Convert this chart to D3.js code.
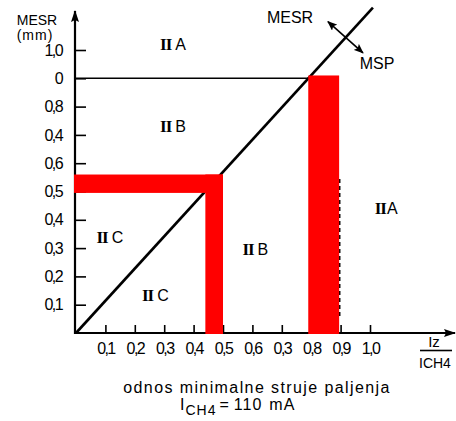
<!DOCTYPE html>
<html><head><meta charset="utf-8">
<script src="https://cdn.jsdelivr.net/npm/d3@7"></script>
<style>
html,body{margin:0;padding:0;background:#fff;}
svg{display:block;}
text{font-family:"Liberation Sans",Arial,sans-serif;fill:#000;}
</style></head>
<body>
<svg id="chart" width="456" height="421"></svg>
<script>
// ---- data ----
const xTickValues = [0.1,0.2,0.3,0.4,0.5,0.6,0.7,0.8,0.9,1.0];
const xTickLabels = ["0,1","0,2","0,3","0,4","0,5","0,6","0,3","0,8","0,9","1,0"];
const yTickValues = [0.1,0.2,0.3,0.4,0.5,0.6,0.7,0.8,0.9,1.0];
const yTickLabels = ["0,1","0,2","0,3","0,4","0,5","0,6","0,4","0,8","0","1,0"];
const diagonalLine = [[0,0],[1.01,1.15]];
const boundaryLine = [[0,0.9],[0.79,0.9]];
const redBands = [
  {x0:0,    x1:0.5,   y0:0.495, y1:0.56},
  {x0:0.44, x1:0.5,   y0:0,     y1:0.56},
  {x0:0.79, x1:0.895, y0:0,     y1:0.91}
];
const dashedEdge = [[0.897,0.06],[0.897,0.55]];
const regionLabels = [
  {roman:"II", letter:"A", x:0.33, y:1.02},
  {roman:"II", letter:"B", x:0.33, y:0.73},
  {roman:"II", letter:"C", x:0.115,y:0.34},
  {roman:"II", letter:"C", x:0.27, y:0.135},
  {roman:"II", letter:"B", x:0.61, y:0.295},
  {roman:"II", letter:"A", x:1.055,y:0.44, tight:true}
];
const dirArrow = [[0.857,1.10],[0.976,0.99]];

// ---- scales ----
const svg = d3.select("#chart");
const x = d3.scaleLinear().domain([0,1]).range([76,370]);
const y = d3.scaleLinear().domain([0,1]).range([333,50]);

const defs = svg.append("defs");
defs.append("marker").attr("id","ah").attr("viewBox","0 0 12 8")
  .attr("refX",11).attr("refY",4).attr("markerWidth",12).attr("markerHeight",8)
  .attr("markerUnits","userSpaceOnUse").attr("orient","auto")
  .append("path").attr("d","M0,0 L12,4 L0,8 L2,4 Z").attr("fill","#000");
defs.append("marker").attr("id","ahs").attr("viewBox","0 0 10 8")
  .attr("refX",9).attr("refY",4).attr("markerWidth",10).attr("markerHeight",8)
  .attr("markerUnits","userSpaceOnUse").attr("orient","auto-start-reverse")
  .append("path").attr("d","M0,0 L10,4 L0,8 L2,4 Z").attr("fill","#000");

// ---- axes ----
const yAxis = d3.axisLeft(y).tickValues(yTickValues)
  .tickFormat((d,i)=>yTickLabels[i]).tickSize(-11).tickSizeOuter(0).tickPadding(13);
const gy = svg.append("g").attr("transform",`translate(${x(0)-1},0)`).call(yAxis);
gy.select(".domain").remove();
gy.selectAll(".tick line").attr("stroke","#000").attr("stroke-width",1.6);
gy.selectAll(".tick text").style("font-size","16px").style("letter-spacing","-1.6px")
  .attr("fill","#000");

const xAxis = d3.axisBottom(x).tickValues(xTickValues)
  .tickFormat((d,i)=>xTickLabels[i]).tickSize(-8).tickSizeOuter(0).tickPadding(10);
const gx = svg.append("g").attr("transform",`translate(0,${y(0)})`).call(xAxis);
gx.select(".domain").remove();
gx.selectAll(".tick line").attr("stroke","#000").attr("stroke-width",1.6);
gx.selectAll(".tick text").style("font-size","16px").style("letter-spacing","-1.6px")
  .attr("fill","#000");

// axis lines with arrows
svg.append("line").attr("x1",x(0)-1).attr("y1",y(0)+1).attr("x2",x(0)-1).attr("y2",11)
  .attr("stroke","#000").attr("stroke-width",2.2).attr("marker-end","url(#ah)");
svg.append("line").attr("x1",x(0)-2).attr("y1",y(0)).attr("x2",455).attr("y2",y(0))
  .attr("stroke","#000").attr("stroke-width",2.2).attr("marker-end","url(#ah)");

// ---- lines ----
const line = d3.line().x(d=>x(d[0])).y(d=>y(d[1]));
svg.append("path").attr("d",line(boundaryLine)).attr("fill","none")
  .attr("stroke","#000").attr("stroke-width",1.6);
svg.append("path").attr("d",line(diagonalLine)).attr("fill","none")
  .attr("stroke","#000").attr("stroke-width",2.6);
svg.append("path").attr("d",line(dashedEdge)).attr("fill","none")
  .attr("stroke","#000").attr("stroke-width",1.5).attr("stroke-dasharray","4,3");

// ---- red bands ----
svg.selectAll("rect.band").data(redBands).join("rect").attr("class","band")
  .attr("x",d=>d.x0===0 ? x(d.x0)-2 : x(d.x0))
  .attr("y",d=>y(d.y1))
  .attr("width",d=>x(d.x1)-x(d.x0)+(d.x0===0?2:0))
  .attr("height",d=>y(d.y0)-y(d.y1)+(d.y0===0?1:0))
  .attr("fill","#ff0000");

// ---- direction arrow ----
svg.append("path").attr("d",line(dirArrow)).attr("fill","none")
  .attr("stroke","#000").attr("stroke-width",1.6)
  .attr("marker-start","url(#ahs)").attr("marker-end","url(#ahs)");

// ---- region labels ----
regionLabels.forEach(r=>{
  const t = svg.append("text").attr("x",x(r.x)).attr("y",y(r.y)).attr("dy","0.36em")
    .attr("text-anchor","middle").style("font-size","16px");
  t.append("tspan").style("font-family","'Liberation Serif',serif").style("font-weight","bold")
    .style("font-size","17px").style("letter-spacing","-1px").text(r.roman);
  t.append("tspan").attr("dx", r.tight?1:4).text(r.letter);
});

// ---- text labels ----
svg.append("text").attr("x",37).attr("y",25).attr("text-anchor","middle")
  .style("font-size","14px").text("MESR");
svg.append("text").attr("x",35).attr("y",40).attr("text-anchor","middle")
  .style("font-size","14px").style("letter-spacing","1px").text("(mm)");
svg.append("text").attr("x",290).attr("y",23).attr("text-anchor","middle")
  .style("font-size","16px").text("MESR");
svg.append("text").attr("x",377).attr("y",69).attr("text-anchor","middle")
  .style("font-size","16px").text("MSP");

// fraction on x axis
svg.append("text").attr("x",434).attr("y",347).attr("text-anchor","middle")
  .style("font-size","15px").text("Iz");
svg.append("line").attr("x1",420).attr("x2",452).attr("y1",350.5).attr("y2",350.5)
  .attr("stroke","#000").attr("stroke-width",1.6);
svg.append("text").attr("x",419).attr("y",368).style("font-size","14px")
  .text("ICH4");

// bottom caption
svg.append("text").attr("x",257).attr("y",393).attr("text-anchor","middle")
  .style("font-size","16px").style("letter-spacing","1.4px").text("odnos minimalne struje paljenja");
const cap2 = svg.append("text").attr("x",180).attr("y",410).style("font-size","16px");
cap2.append("tspan").text("I");
cap2.append("tspan").attr("dy",5).attr("dx",1).style("font-size","14px").style("letter-spacing","1px").text("CH4");
cap2.append("tspan").attr("dy",-5).attr("dx",3).text("=");
cap2.append("tspan").attr("dx",5).style("letter-spacing","1px").text("110");
cap2.append("tspan").attr("dx",7).style("letter-spacing","1px").text("mA");
</script>
</body></html>
